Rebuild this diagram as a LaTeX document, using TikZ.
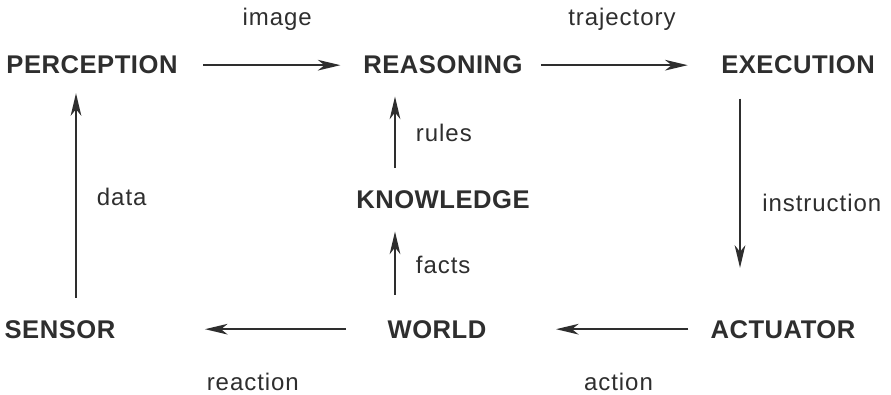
\documentclass[tikz,border=0pt]{standalone}
\usepackage{fontspec}
\setmainfont{Liberation Sans}
\newfontfamily\stagefont[LetterSpace=2]{Liberation Sans}
\newfontfamily\tagfont[LetterSpace=4]{Liberation Sans}
\usetikzlibrary{arrows.meta}
\colorlet{ink}{black!82}
\tikzset{
	stage/.style={inner sep=0pt, anchor=base, text=ink, font=\stagefont\bfseries\fontsize{19.2}{22}\selectfont},
	tag/.style={inner sep=0pt, text=ink, font=\tagfont\fontsize{18}{21}\selectfont},
	flow/.style={draw=ink, line width=1.4pt, -{Stealth[length=17pt, width=8pt, inset=5pt]}}
}
\begin{document}
\begin{tikzpicture}[x=0.75pt, y=-0.75pt, line join=round]
	\useasboundingbox (0,0) rectangle (891,395);
	\foreach \n/\t/\x/\y in {perception/PERCEPTION/92/74, reasoning/REASONING/443/74, execution/EXECUTION/798/74,
		knowledge/KNOWLEDGE/443/209, sensor/SENSOR/60/338, world/WORLD/437/338, actuator/ACTUATOR/783/338}
	\node[stage] (\n) at (\x,\y) {\t};
	% top row
	\draw[flow, shorten <=19pt, shorten >=17pt] (perception) -- (reasoning)
		node[tag, midway, above=25pt, xshift=5pt] {image};
	\draw[flow, shorten <=13.5pt, shorten >=25pt] (reasoning) -- (execution)
		node[tag, midway, above=25pt] {trajectory};
	% right side
	\draw[flow, shorten <=18pt, shorten >=39pt] ([xshift=-43.5pt]execution.south) -- ([xshift=-43.5pt]execution.south |- actuator.north)
		node[tag, midway, right=16pt, yshift=-4pt] {instruction};
	% bottom row
	\draw[flow, shorten <=16.5pt, shorten >=52pt] (actuator) -- (world)
		node[tag, midway, below=32pt, xshift=15pt] {action};
	\draw[flow, shorten <=31pt, shorten >=67pt] (world) -- (sensor)
		node[tag, midway, below=32pt, xshift=1pt] {reaction};
	% left side and middle
	\draw[flow, shorten <=16.5pt, shorten >=14pt] ([xshift=12pt]sensor.north) -- ([xshift=12pt]sensor.north |- perception.south)
		node[tag, midway, right=15pt] {data};
	\draw[flow, shorten <=19pt, shorten >=16.5pt] ([xshift=-31.5pt]world.north) -- ([xshift=-31.5pt]world.north |- knowledge.south)
		node[tag, midway, right=15pt] {facts};
	\draw[flow, shorten <=17pt, shorten >=16.5pt] ([xshift=-36pt]knowledge.north) -- ([xshift=-36pt]knowledge.north |- reasoning.south)
		node[tag, midway, right=15pt] {rules};
\end{tikzpicture}
\end{document}
